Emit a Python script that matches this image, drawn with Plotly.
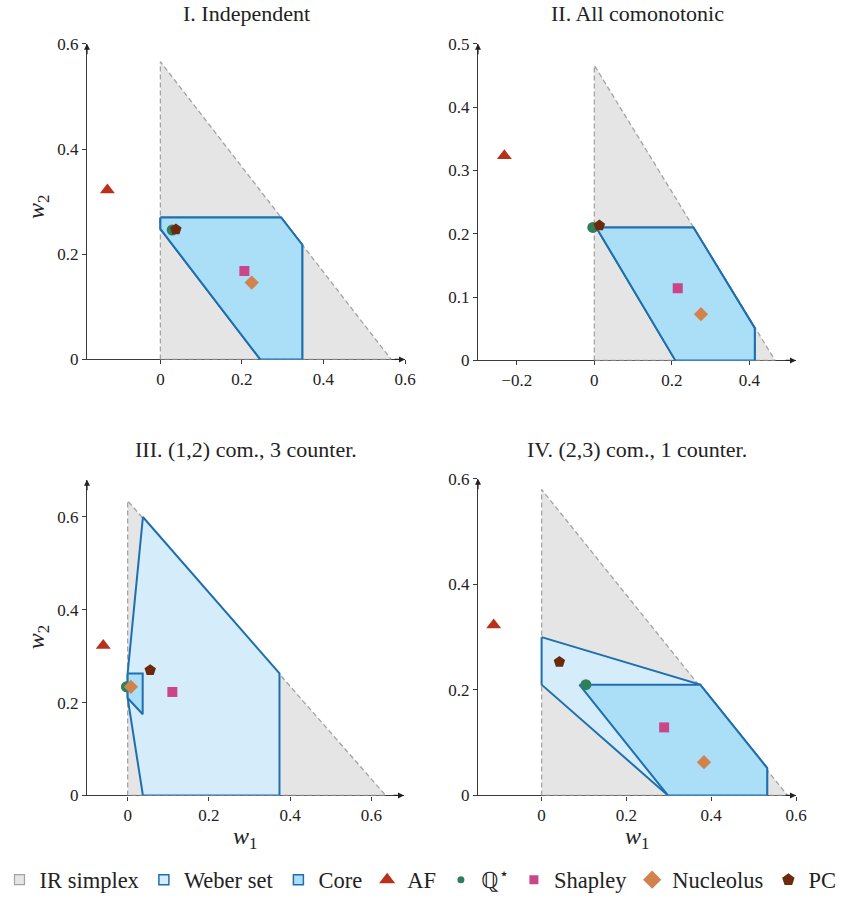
import plotly.graph_objects as go
from plotly.subplots import make_subplots

# ---------------- data ----------------
panel_titles = ["I. Independent", "II. All comonotonic",
                "III. (1,2) com., 3 counter.", "IV. (2,3) com., 1 counter."]

# side length of the individually-rational simplex in each panel
ir_side = [0.566, 0.466, 0.635, 0.58]

# Weber set vertices
weber_x = [[0, 0.296, 0.348, 0.348, 0.245, 0],
           [0.005, 0.2555, 0.4137, 0.4137, 0.209],
           [0, 0.0376, 0.3736, 0.3736, 0.0376, 0],
           [0, 0.374, 0.532, 0.532, 0.298, 0]]
weber_y = [[0.27, 0.27, 0.218, 0, 0, 0.248],
           [0.21, 0.21, 0.051, 0, 0],
           [0.263, 0.6, 0.263, 0, 0, 0.21],
           [0.30, 0.21, 0.052, 0, 0, 0.21]]

# Core vertices
core_x = [[0, 0.296, 0.348, 0.348, 0.245, 0],
          [0.005, 0.2555, 0.4137, 0.4137, 0.209],
          [0, 0.037, 0.037, 0],
          [0.089, 0.374, 0.532, 0.532, 0.298]]
core_y = [[0.27, 0.27, 0.218, 0, 0, 0.248],
          [0.21, 0.21, 0.051, 0, 0],
          [0.263, 0.263, 0.175, 0.21],
          [0.21, 0.21, 0.052, 0, 0]]

# solution points (w1, w2) per panel
af_x = [-0.13, -0.232, -0.06, -0.113]
af_y = [0.322, 0.323, 0.323, 0.323]
q_x = [0.029, -0.004, -0.003, 0.1045]
q_y = [0.246, 0.21, 0.234, 0.21]
shap_x = [0.206, 0.215, 0.11, 0.289]
shap_y = [0.168, 0.114, 0.223, 0.129]
nuc_x = [0.224, 0.275, 0.008, 0.383]
nuc_y = [0.146, 0.073, 0.234, 0.063]
pc_x = [0.038, 0.013, 0.0555, 0.042]
pc_y = [0.247, 0.213, 0.27, 0.253]

# axis ranges and ticks
x_ranges = [[-0.18, 0.6], [-0.3, 0.52], [-0.1, 0.68], [-0.15, 0.6]]
y_ranges = [[0, 0.6], [0, 0.5], [0, 0.68], [0, 0.6]]
x_ticks = [[0, 0.2, 0.4, 0.6], [-0.2, 0, 0.2, 0.4], [0, 0.2, 0.4, 0.6], [0, 0.2, 0.4, 0.6]]
y_ticks = [[0, 0.2, 0.4, 0.6], [0, 0.1, 0.2, 0.3, 0.4, 0.5], [0, 0.2, 0.4, 0.6], [0, 0.2, 0.4, 0.6]]

# ---------------- styling ----------------
W, H = 841, 902
FONT = "Liberation Serif"
C_IR_FILL, C_IR_LINE = "#e5e5e5", "#a3a3a3"
C_WEBER, C_CORE, C_EDGE = "#d5ecfa", "#abdff8", "#1f6fae"
C_AF, C_Q, C_SH, C_NU, C_PC = "#b8311c", "#2f7f5c", "#c9468b", "#d2824c", "#6c2a0c"

# pixel boxes of plot areas (left, right, top, bottom)
boxes = [(87, 405, 44, 361), (478, 796, 44, 362), (87, 404, 482, 799), (478, 796, 481, 799)]

fig = make_subplots(rows=2, cols=2)


def fmt(v):
    if v == 0:
        return "0"
    s = f"{abs(v):g}"
    return ("\u2212" if v < 0 else "") + s


pts_spec = [("AF", af_x, af_y, "triangle-up", C_AF, 13),
            ("Q", q_x, q_y, "circle", C_Q, 11),
            ("Shapley", shap_x, shap_y, "square", C_SH, 10),
            ("Nucleolus", nuc_x, nuc_y, "diamond", C_NU, 11),
            ("PC", pc_x, pc_y, "pentagon", C_PC, 12)]

for i in range(4):
    r, c = i // 2 + 1, i % 2 + 1
    s = ir_side[i]
    fig.add_trace(go.Scatter(x=[0, 0, s, 0], y=[0, s, 0, 0], fill="toself", mode="lines",
                             fillcolor=C_IR_FILL,
                             line=dict(color=C_IR_LINE, width=1.3, dash="5px,3px"),
                             showlegend=False, hoverinfo="skip"), row=r, col=c)
    fig.add_trace(go.Scatter(x=weber_x[i] + [weber_x[i][0]], y=weber_y[i] + [weber_y[i][0]],
                             fill="toself", mode="lines", fillcolor=C_WEBER,
                             line=dict(color=C_EDGE, width=2), showlegend=False,
                             name="Weber set"), row=r, col=c)
    fig.add_trace(go.Scatter(x=core_x[i] + [core_x[i][0]], y=core_y[i] + [core_y[i][0]],
                             fill="toself", mode="lines", fillcolor=C_CORE,
                             line=dict(color=C_EDGE, width=2), showlegend=False,
                             name="Core"), row=r, col=c)
    for name, xs, ys, sym, col, sz in pts_spec:
        fig.add_trace(go.Scatter(x=[xs[i]], y=[ys[i]], mode="markers",
                                 marker=dict(symbol=sym, color=col, size=sz, line=dict(width=0)),
                                 name=name, showlegend=False), row=r, col=c)

    L, R, T, B = boxes[i]
    xa = "xaxis" if i == 0 else f"xaxis{i+1}"
    ya = "yaxis" if i == 0 else f"yaxis{i+1}"
    axis_common = dict(showgrid=False, zeroline=False, showline=True, linecolor="#3a3a3a",
                       linewidth=1.2, ticks="outside", ticklen=4, tickcolor="#3a3a3a",
                       tickfont=dict(family=FONT, size=17, color="#222"), layer="below traces")
    fig.layout[xa].update(domain=[L / W, R / W], range=x_ranges[i], tickvals=x_ticks[i],
                          ticktext=[fmt(v) for v in x_ticks[i]], **axis_common)
    fig.layout[ya].update(domain=[1 - B / H, 1 - T / H], range=y_ranges[i], tickvals=y_ticks[i],
                          ticktext=[fmt(v) for v in y_ticks[i]], **axis_common)

    xref = "x" if i == 0 else f"x{i+1}"
    yref = "y" if i == 0 else f"y{i+1}"
    # axis arrowheads
    fig.add_annotation(x=x_ranges[i][1], y=y_ranges[i][0], xref=xref, yref=yref, ax=-12, ay=0,
                       text="", showarrow=True, arrowhead=2, arrowsize=1, arrowwidth=1.2,
                       arrowcolor="#222")
    fig.add_annotation(x=x_ranges[i][0], y=y_ranges[i][1], xref=xref, yref=yref, ax=0, ay=12,
                       text="", showarrow=True, arrowhead=2, arrowsize=1, arrowwidth=1.2,
                       arrowcolor="#222")
    # title
    fig.add_annotation(x=(L + R) / 2 / W, y=1 - (T - 30) / H, xref="paper", yref="paper",
                       text=panel_titles[i], showarrow=False, xanchor="center", yanchor="middle",
                       font=dict(family=FONT, size=22, color="#222"))

# axis labels
for px, py in [(38, 208), (38, 640)]:
    fig.add_annotation(x=px / W, y=1 - py / H, xref="paper", yref="paper",
                       text="<i>w</i><sub>2</sub>", showarrow=False, textangle=-90,
                       xanchor="center", yanchor="middle",
                       font=dict(family=FONT, size=24, color="#222"))
for px, py in [(245, 842), (637, 842)]:
    fig.add_annotation(x=px / W, y=1 - py / H, xref="paper", yref="paper",
                       text="<i>w</i><sub>1</sub>", showarrow=False,
                       xanchor="center", yanchor="middle",
                       font=dict(family=FONT, size=24, color="#222"))

# legend-only entries
legend_entries = [("IR simplex", "square", C_IR_FILL, C_IR_LINE, 10, 1.2),
                  ("Weber set", "square", C_WEBER, C_EDGE, 10, 1.5),
                  ("Core", "square", C_CORE, C_EDGE, 10, 1.5),
                  ("AF", "triangle-up", C_AF, C_AF, 14, 0),
                  ("\u211a<sup>\u22c6</sup>", "circle", C_Q, C_Q, 7, 0),
                  ("Shapley", "square", C_SH, C_SH, 9, 0),
                  ("Nucleolus", "diamond", C_NU, C_NU, 14, 0),
                  ("PC", "pentagon", C_PC, C_PC, 13, 0)]
for name, sym, fc, lc, sz, lw in legend_entries:
    fig.add_trace(go.Scatter(x=[None], y=[None], mode="markers", name=name,
                             marker=dict(symbol=sym, color=fc, size=sz,
                                         line=dict(color=lc, width=lw)),
                             showlegend=True))

fig.update_layout(
    width=W, height=H, margin=dict(l=0, r=0, t=0, b=0),
    paper_bgcolor="white", plot_bgcolor="white", template="none",
    font=dict(family=FONT, size=17, color="#222"),
    showlegend=True,
    legend=dict(orientation="h", x=0.5, xanchor="center", y=1 - 884 / H, yanchor="middle",
                font=dict(family=FONT, size=22.5, color="#222"), itemwidth=30,
                bgcolor="rgba(0,0,0,0)", traceorder="normal", itemsizing="trace"),
)

fig.write_html("out.html")
